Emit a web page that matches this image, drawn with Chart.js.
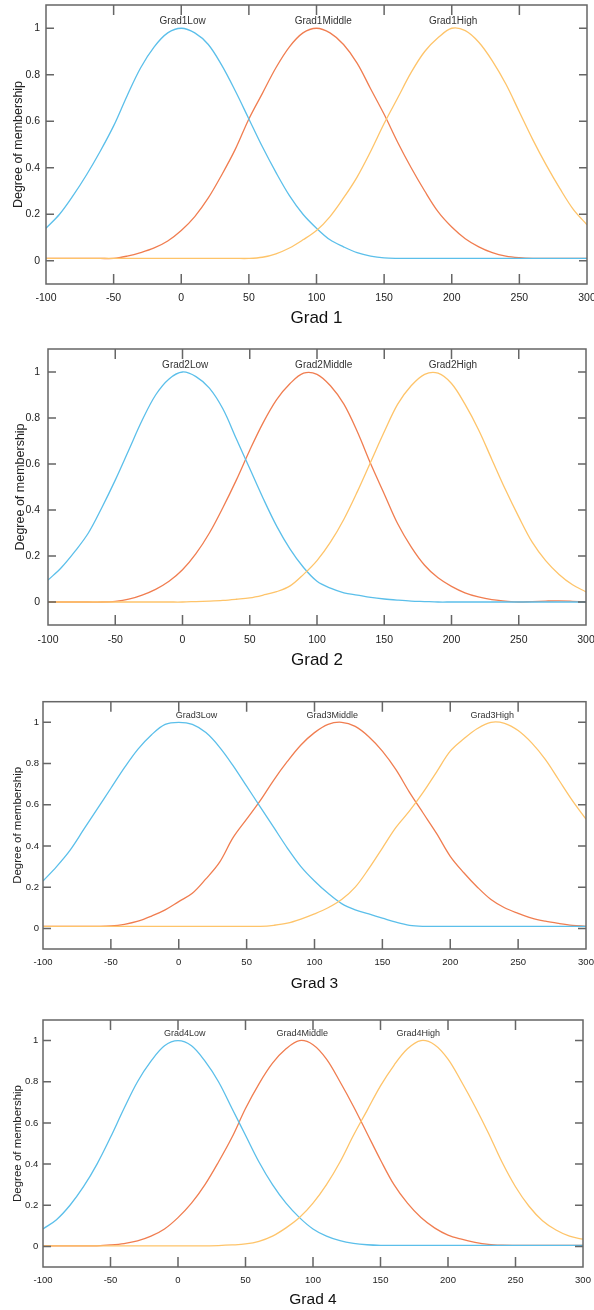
<!DOCTYPE html>
<html lang="en">
<head>
<meta charset="UTF-8">
<title>Membership functions</title>
<script src="https://cdn.jsdelivr.net/npm/chart.js"></script>
<style>
  body { margin: 0; background: #fff; }
  #wrap { position: relative; width: 594px; height: 1310px; }
  canvas { position: absolute; left: 0; }
</style>
</head>
<body>
<div id="wrap">
  <canvas id="c1" width="594" height="335" style="top:0px"></canvas>
  <canvas id="c2" width="594" height="335" style="top:340px"></canvas>
  <canvas id="c3" width="594" height="320" style="top:680px"></canvas>
  <canvas id="c4" width="594" height="310" style="top:1000px"></canvas>
</div>
<script>
// sample positions (input value)
const xs = [-100,-90,-80,-70,-60,-50,-40,-30,-20,-10,0,10,20,30,40,50,60,70,80,90,100,
            110,120,130,140,150,160,170,180,190,200,210,220,230,240,250,260,270,280,290,300];
const xTicks = [-100,-50,0,50,100,150,200,250,300];
const yTicks = [0,0.2,0.4,0.6,0.8,1];

// Grad 1
const low1  = [0.14,0.20,0.28,0.37,0.47,0.58,0.71,0.83,0.92,0.98,1.00,0.98,0.93,0.84,0.73,0.61,0.49,0.38,0.28,0.20,0.14,
               0.09,0.06,0.035,0.02,0.012,0.01,0.01,0.01,0.01,0.01,0.01,0.01,0.01,0.01,0.01,0.01,0.01,0.01,0.01,0.01];
const mid1  = [0.01,0.01,0.01,0.01,0.01,0.01,0.02,0.035,0.055,0.085,0.13,0.19,0.27,0.37,0.48,0.61,0.72,0.83,0.92,0.98,1.00,
               0.98,0.93,0.85,0.74,0.63,0.51,0.40,0.30,0.21,0.145,0.095,0.06,0.035,0.02,0.013,0.01,0.01,0.01,0.01,0.01];
const high1 = [0.01,0.01,0.01,0.01,0.01,0.01,0.01,0.01,0.01,0.01,0.01,0.01,0.01,0.01,0.01,0.01,0.015,0.03,0.055,0.09,0.13,
               0.19,0.27,0.36,0.47,0.59,0.70,0.81,0.90,0.96,1.00,0.99,0.94,0.86,0.76,0.64,0.52,0.41,0.31,0.22,0.155];
const names1 = ['Grad1Low','Grad1Middle','Grad1High'];
const labelX1 = [1,105,201];

// Grad 2
const low2  = [0.095,0.15,0.22,0.30,0.41,0.53,0.66,0.79,0.90,0.97,1.00,0.98,0.93,0.84,0.71,0.58,0.45,0.33,0.23,0.15,0.09,
               0.06,0.04,0.03,0.02,0.013,0.008,0.004,0.002,0,0,0,0,0,0,0,0,0,0,0,0];
const mid2  = [0,0,0,0,0,0.003,0.012,0.03,0.055,0.09,0.14,0.21,0.30,0.41,0.53,0.66,0.78,0.88,0.95,0.995,0.99,
               0.94,0.86,0.74,0.60,0.47,0.34,0.24,0.16,0.105,0.068,0.04,0.022,0.01,0.004,0,0.002,0.004,0.005,0.003,0];
const high2 = [0,0,0,0,0,0,0,0,0,0,0,0.002,0.004,0.007,0.012,0.018,0.03,0.045,0.07,0.12,0.18,
               0.26,0.36,0.48,0.61,0.74,0.86,0.94,0.99,0.995,0.95,0.86,0.75,0.62,0.49,0.37,0.26,0.18,0.12,0.075,0.044];
const names2 = ['Grad2Low','Grad2Middle','Grad2High'];
const labelX2 = [2,105,201];

// Grad 3
const low3  = [0.23,0.30,0.38,0.48,0.58,0.68,0.78,0.87,0.94,0.99,1.00,0.99,0.95,0.88,0.79,0.69,0.59,0.49,0.39,0.30,0.23,
               0.17,0.12,0.09,0.07,0.05,0.03,0.015,0.01,0.01,0.01,0.01,0.01,0.01,0.01,0.01,0.01,0.01,0.01,0.01,0.01];
const mid3  = [0.01,0.01,0.01,0.01,0.01,0.012,0.02,0.035,0.06,0.09,0.13,0.17,0.24,0.32,0.44,0.53,0.62,0.72,0.81,0.89,0.95,
               0.99,1.00,0.98,0.93,0.86,0.77,0.66,0.56,0.46,0.35,0.27,0.20,0.14,0.10,0.073,0.05,0.035,0.024,0.015,0.01];
const high3 = [0.01,0.01,0.01,0.01,0.01,0.01,0.01,0.01,0.01,0.01,0.01,0.01,0.01,0.01,0.01,0.01,0.01,0.015,0.025,0.045,0.07,
               0.10,0.14,0.20,0.29,0.39,0.49,0.57,0.66,0.76,0.86,0.92,0.97,1.00,0.995,0.96,0.90,0.82,0.72,0.62,0.53];
const names3 = ['Grad3Low','Grad3Middle','Grad3High'];
const labelX3 = [13,113,231];

// Grad 4
const low4  = [0.085,0.13,0.20,0.29,0.40,0.53,0.67,0.80,0.90,0.975,1.00,0.975,0.90,0.80,0.67,0.54,0.41,0.30,0.21,0.14,0.085,
               0.05,0.028,0.015,0.008,0.005,0.005,0.005,0.005,0.005,0.005,0.005,0.005,0.005,0.005,0.005,0.005,0.005,0.005,0.005,0.005];
const mid4  = [0.003,0.003,0.003,0.003,0.003,0.007,0.014,0.027,0.05,0.085,0.14,0.21,0.30,0.41,0.53,0.67,0.79,0.89,0.96,1.00,0.98,
               0.91,0.80,0.68,0.55,0.42,0.30,0.21,0.14,0.09,0.055,0.035,0.02,0.01,0.006,0.005,0.005,0.005,0.005,0.005,0.005];
const high4 = [0.003,0.003,0.003,0.003,0.003,0.003,0.003,0.003,0.003,0.003,0.003,0.003,0.003,0.004,0.007,0.012,0.025,0.05,0.09,0.14,0.21,
               0.30,0.41,0.54,0.66,0.78,0.88,0.96,1.00,0.98,0.91,0.80,0.68,0.55,0.41,0.29,0.195,0.125,0.08,0.05,0.035];
const names4 = ['Grad4Low','Grad4Middle','Grad4High'];
const labelX4 = [5,92,178];

const titles = ['Grad 1','Grad 2','Grad 3','Grad 4'];
const colors = ['#5BBFEA','#F07D50','#FEC46A'];

Chart.defaults.font.family = '"Liberation Sans", Arial, sans-serif';
Chart.defaults.color = '#222';

// frame with inward ticks + curve names
const framePlugin = {
  id: 'frame',
  afterDatasetsDraw(chart, args, opts) {
    const { ctx, chartArea: a, scales: { x, y } } = chart;
    ctx.save();
    ctx.strokeStyle = '#666';
    ctx.lineWidth = 1.5;
    ctx.strokeRect(a.left, a.top, a.right - a.left, a.bottom - a.top);
    ctx.beginPath();
    xTicks.slice(1, -1).forEach(v => {
      const px = x.getPixelForValue(v);
      ctx.moveTo(px, a.bottom); ctx.lineTo(px, a.bottom - 10);
      ctx.moveTo(px, a.top); ctx.lineTo(px, a.top + 10);
    });
    yTicks.forEach(v => {
      const py = y.getPixelForValue(v);
      ctx.moveTo(a.left, py); ctx.lineTo(a.left + 8, py);
      ctx.moveTo(a.right, py); ctx.lineTo(a.right - 8, py);
    });
    ctx.stroke();
    ctx.fillStyle = '#333';
    ctx.font = opts.labelSize + 'px "Liberation Sans", Arial, sans-serif';
    ctx.textAlign = 'center';
    ctx.textBaseline = 'middle';
    opts.names.forEach((n, i) => {
      ctx.fillText(n, x.getPixelForValue(opts.labelX[i]), y.getPixelForValue(1) - 7);
    });
    ctx.restore();
  }
};

function makeChart(id, series, names, labelX, title, b) {
  const datasets = series.map((s, i) => ({
    data: xs.map((v, j) => ({ x: v, y: s[j] })),
    borderColor: colors[i],
    borderWidth: 1.3,
    pointRadius: 0,
    fill: false,
    tension: 0.35,
    order: [1, 2, 0][i]
  }));
  return new Chart(document.getElementById(id), {
    type: 'line',
    data: { datasets },
    plugins: [framePlugin],
    options: {
      responsive: false,
      animation: false,
      layout: { padding: { left: 0, top: b.top, right: 594 - b.right, bottom: 0 } },
      plugins: {
        legend: { display: false },
        tooltip: { enabled: false },
        frame: { names, labelX, labelSize: b.label }
      },
      scales: {
        x: {
          type: 'linear', min: -100, max: 300,
          grid: { display: false, drawTicks: false },
          border: { display: false },
          afterBuildTicks: s => { s.ticks = xTicks.map(v => ({ value: v })); },
          afterFit: s => { s.height = b.h - b.bottom; s.paddingLeft = 0; s.paddingRight = 0; },
          ticks: { padding: b.xPad, font: { size: b.tick }, maxRotation: 0, autoSkip: false },
          title: { display: true, text: title, color: '#111', font: { size: b.title },
                   padding: { top: 0, bottom: b.titlePad } }
        },
        y: {
          min: -0.1, max: 1.1,
          grid: { display: false, drawTicks: false },
          border: { display: false },
          afterBuildTicks: s => { s.ticks = yTicks.map(v => ({ value: v })); },
          afterFit: s => { s.width = b.left; s.paddingTop = 0; s.paddingBottom = 0; },
          ticks: { padding: b.yPad, font: { size: b.tick }, callback: v => String(v) },
          title: { display: true, text: 'Degree of membership', color: '#222',
                   font: { size: b.ytitle },
                   padding: { top: b.yTitlePad, bottom: 0 } }
        }
      }
    }
  });
}

makeChart('c1', [low1, mid1, high1], names1, labelX1, titles[0],
  { h: 335, top: 5, bottom: 284, left: 46, right: 587, tick: 10.5, xPad: 8, yPad: 6,
    title: 17, titlePad: 6.8, ytitle: 12.5, yTitlePad: 10.8, label: 10 });
makeChart('c2', [low2, mid2, high2], names2, labelX2, titles[1],
  { h: 335, top: 9, bottom: 285, left: 48, right: 586, tick: 10.5, xPad: 8.7, yPad: 8,
    title: 17, titlePad: 4.8, ytitle: 12.5, yTitlePad: 13.2, label: 10 });
makeChart('c3', [low3, mid3, high3], names3, labelX3, titles[2],
  { h: 320, top: 21.7, bottom: 269, left: 43, right: 586, tick: 9.5, xPad: 8, yPad: 4,
    title: 15.5, titlePad: 7.4, ytitle: 11.5, yTitlePad: 11.4, label: 9 });
makeChart('c4', [low4, mid4, high4], names4, labelX4, titles[3],
  { h: 310, top: 20, bottom: 267, left: 43, right: 583, tick: 9.5, xPad: 7.3, yPad: 4.7,
    title: 15.5, titlePad: 0.7, ytitle: 11.5, yTitlePad: 11.4, label: 9 });
</script>
</body>
</html>
